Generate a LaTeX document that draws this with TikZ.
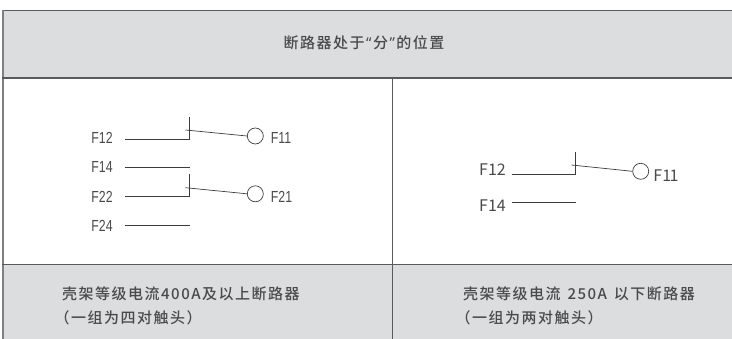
\documentclass[tikz,border=0pt]{standalone}
\usepackage{fontspec}
\setmainfont{Liberation Sans}
\newfontfamily\cjk[LetterSpace=10]{Noto Sans CJK SC Medium}
\newfontfamily\cjkr{Noto Sans CJK SC}
\newfontfamily\qfont{Noto Sans}
\definecolor{band}{HTML}{DCDDDF}
\definecolor{rule}{HTML}{5A5A5C}
\definecolor{ink}{HTML}{4A4A4C}
\definecolor{wire}{HTML}{3C3C3E}
\tikzset{
  x=1pt,y=-1pt,
  frame/.style={draw=rule,line width=1pt},
  wireline/.style={draw=wire,line width=0.7pt},
  lbl/.style={inner sep=0pt,text=ink,font=\fontsize{16}{18}\selectfont,anchor=center,xscale=0.77},
  rlbl/.style={inner sep=0pt,text=ink,font=\cjkr\fontsize{16}{18}\selectfont,anchor=center},
  head/.style={inner sep=0pt,text=ink,font=\cjk\fontsize{15}{23}\selectfont,align=left},
  coil/.style={circle,draw=wire,line width=0.7pt,minimum size=16pt,inner sep=0pt},
}
\begin{document}
\begin{tikzpicture}
\useasboundingbox (0,0) rectangle (732,339);
\fill[band] (3,10.5) rectangle (732,78);
\fill[band] (3,264.5) rectangle (732,339);
\draw[frame] (732,10.8) -- (3,10.8);
\draw[draw=gray,line width=1.4pt] (3,10.3) -- (3,339);
\draw[frame,line width=2pt] (2.3,78) -- (732,78);
\draw[frame] (2.3,264.5) -- (732,264.5);
\draw[frame] (392.5,78) -- (392.5,339);
\node[head] (title) at (364,43) {断路器处于{\qfont\kern1.5pt“\kern1.5pt}分{\qfont\kern1.5pt”\kern1.5pt}的位置};
\node[head,anchor=base west] (capa) at (62,300) {壳架等级电流400A及以上断路器};
\node[head,anchor=base west] (capa2) at (62,323.5) {\hspace{-0.5em}（一组为四对触头）};
\node[head,anchor=base west] (capb) at (463,300) {壳架等级电流\hspace{2pt} 250A \hspace{2pt}以下断路器};
\node[head,anchor=base west] (capb2) at (463,323.5) {\hspace{-0.5em}（一组为两对触头）};
% left diagram
\node[lbl] (f12) at (102,137.5) {F12};
\node[lbl] (f14) at (102,166.7) {F14};
\node[lbl] (f22) at (102,196.5) {F22};
\node[lbl] (f24) at (102,226) {F24};
\node[lbl] (f11) at (281,138) {F11};
\node[lbl] (f21) at (281.5,196.5) {F21};
\node[coil] (c1) at (255.3,136) {};
\node[coil] (c2) at (255.3,193.8) {};
\coordinate (e14) at (124.5,167.3);
\coordinate (e14b) at (189.7,167.3);
\coordinate (e24) at (124.5,225);
\coordinate (e24b) at (189.7,225);
\draw[wireline] (125,139.3) -| (189.3,116.7);
\draw[wireline] (185.5,130) -- (c1.west);
\draw[wireline] (e14) -- (e14b);
\draw[wireline] (125,196.8) -| (189.3,174);
\draw[wireline] (185.5,187.7) -- (c2.west);
\draw[wireline] (e24) -- (e24b);
% right diagram
\node[rlbl] (g12) at (492.5,169.5) {F12};
\node[rlbl] (g14) at (492.5,205.5) {F14};
\node[rlbl] (g11) at (666,176) {F1\kern-1.5pt 1};
\node[coil] (c3) at (640.7,171.3) {};
\draw[wireline] (512,174) -| (575.7,151.7);
\draw[wireline] (571.5,165) -- (c3.west);
\coordinate (h14) at (512,202.8);
\coordinate (h14b) at (576,202.8);
\draw[wireline] (h14) -- (h14b);
\end{tikzpicture}
\end{document}
